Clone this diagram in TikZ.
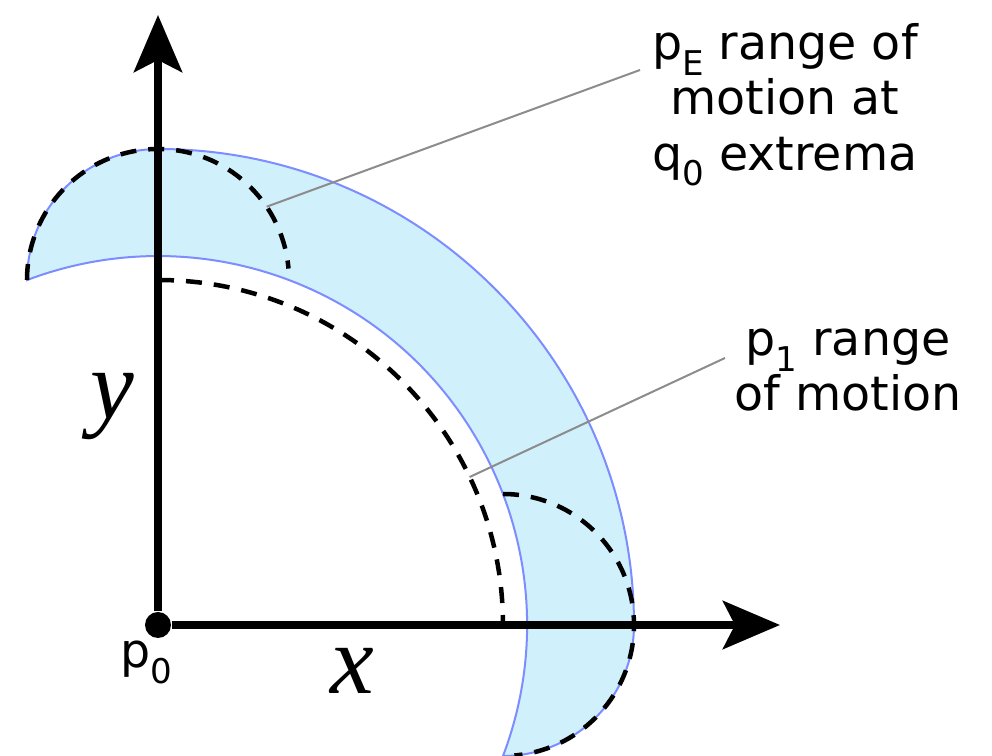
\documentclass[tikz,border=0pt]{standalone}
\usepackage{fontspec}
\setmainfont{DejaVu Sans}
\newfontfamily\axisfont{Liberation Serif}
\usetikzlibrary{
  arrows.meta,
  positioning,
  calc
}
\definecolor{bandfill}{RGB}{208,240,252}
\definecolor{bandedge}{RGB}{125,140,255}
\definecolor{leadergray}{RGB}{140,140,140}
\newcommand{\lowsub}[1]{\raisebox{-4.5pt}{\fontsize{9.7}{9.7}\selectfont #1}}
\tikzset{
  axisline/.style={
    line width=0.8mm,
    -{Stealth[length=5.7mm,width=4.8mm,inset=1.2mm]}
  },
  reachband/.style={fill=bandfill,draw=bandedge,line width=0.2mm},
  rangearc/.style={dash pattern=on 1.6mm off 1.2mm,line width=0.45mm},
  leader/.style={draw=leadergray,line width=0.2mm},
  labeltext/.style={align=center,inner sep=0pt,font=\fontsize{13.5}{15.7}\selectfont},
  axislabel/.style={inner sep=0pt,font=\axisfont\itshape\fontsize{28}{28}\selectfont},
  jointdot/.style={circle,fill=black,inner sep=0pt,minimum size=2.6mm},
}

\begin{document}
\begin{tikzpicture}
  \useasboundingbox (-1.58,-1.31) rectangle (8.34,6.25);

  % Reachable band of p_E
  \filldraw[reachband] (0,4.76) arc[start angle=90,end angle=0,radius=4.76]
    arc[start angle=0,end angle=-90,radius=1.31]
    arc[start angle=-20.79,end angle=110.79,radius=3.69]
    arc[start angle=180,end angle=90,radius=1.31] -- cycle;

  % Axes
  \node[jointdot] (p0) at (0,0) {};
  \coordinate (xtip) at (6.22,0);
  \coordinate (ytip) at (0,6.10);
  \draw[axisline] (p0) -- (xtip);
  \draw[axisline] (p0) -- (ytip);
  \node[axislabel] (xlabel) at (1.94,-0.46) {x};
  \node[axislabel] (ylabel) at (-0.46,2.18) {y};
  \node[labeltext,anchor=north] (p0label) at (-0.12,-0.15) {p\lowsub{0}};

  % p1 range and pE range at the q0 extrema
  \coordinate (p1top) at (0,3.45);
  \coordinate (p1end) at (3.45,0);
  \draw[rangearc] (p1top) arc[start angle=90,end angle=0,radius=3.45];
  \draw[rangearc] ($(p1top)+(-1.31,0)$) arc[start angle=180,end angle=5,radius=1.31];
  \draw[rangearc] ($(p1end)+(0,1.31)$) arc[start angle=90,end angle=-85,radius=1.31];

  % Labels
  \node[labeltext,anchor=north] (pelabel) at (6.27,6.02)
    {p\lowsub{E} range of\\motion at\\q\lowsub{0} extrema};
  \node[labeltext,anchor=north] (p1label) at (6.90,2.97)
    {p\lowsub{1} range\\of motion};
  \coordinate (peleader) at ($(p1top)+(34:1.31)$);
  \coordinate (peend) at (4.82,5.55);
  \coordinate (p1leader) at (25.4:3.45);
  \coordinate (p1lend) at (5.67,2.67);
  \draw[leader] (peleader) -- (peend);
  \draw[leader] (p1leader) -- (p1lend);
\end{tikzpicture}
\end{document}
